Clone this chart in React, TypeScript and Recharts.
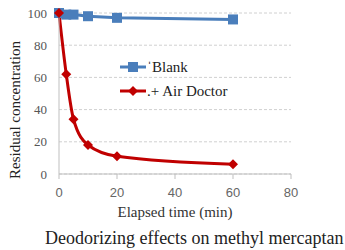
import { LineChart, Line, XAxis, YAxis, CartesianGrid } from 'recharts';

const times = [0, 2.5, 5, 10, 20, 60];
const blank = [100, 99, 99, 98, 97, 96];
const airDoctor = [100, 62, 34, 18, 11, 6];
const xTicks = [0, 20, 40, 60, 80];
const yTicks = [0, 20, 40, 60, 80, 100];

const data = times.map((t, i) => ({ t, blank: blank[i], air: airDoctor[i] }));

const BLUE = '#4a7ebb';
const RED = '#c00000';
const serif = 'Liberation Serif, DejaVu Serif, serif';

const Square = ({ cx, cy }: any) => (
  <rect x={cx - 5} y={cy - 5} width={10} height={10} fill={BLUE} />
);

const Diamond = ({ cx, cy }: any) => (
  <polygon points={`${cx},${cy - 5} ${cx + 5},${cy} ${cx},${cy + 5} ${cx - 5},${cy}`} fill={RED} />
);

const legendItems = [
  { label: 'ˈBlank', color: BLUE, shape: 'square' },
  { label: '.+ Air Doctor', color: RED, shape: 'diamond' },
];

function LegendBox() {
  return (
    <div style={{ position: 'absolute', left: 120, top: 55, fontFamily: serif, fontSize: 15, color: '#222' }}>
      {legendItems.map((it) => (
        <div key={it.label} style={{ display: 'flex', alignItems: 'center', height: 24 }}>
          <svg width={26} height={12}>
            <line x1={0} y1={6} x2={26} y2={6} stroke={it.color} strokeWidth={3} />
            {it.shape === 'square' ? (
              <rect x={8} y={1} width={10} height={10} fill={it.color} />
            ) : (
              <polygon points="13,1 18,6 13,11 8,6" fill={it.color} />
            )}
          </svg>
          <span style={{ marginLeft: 1 }}>{it.label}</span>
        </div>
      ))}
    </div>
  );
}

export default function App() {
  return (
    <div style={{ position: 'absolute', left: 0, top: 0, width: 345, height: 250, background: '#fff' }}>
      <LineChart width={345} height={250} data={data} margin={{ top: 13, right: 54, left: 19, bottom: 34 }}>
        <CartesianGrid vertical={false} stroke="#d0d0d0" strokeDasharray="3 2" />
        <XAxis
          dataKey="t"
          type="number"
          domain={[0, 80]}
          ticks={xTicks}
          height={42}
          stroke="#bfbfbf"
          tickSize={5}
          tickMargin={9}
          tick={{ fill: '#666', fontSize: 13, fontFamily: 'Liberation Sans, sans-serif' }}
          label={{ value: 'Elapsed time (min)', position: 'insideBottom', offset: -1, fill: '#333', fontSize: 15, fontFamily: serif }}
        />
        <YAxis
          domain={[0, 100]}
          ticks={yTicks}
          width={40}
          stroke="#bfbfbf"
          tickLine={false}
          tickMargin={6}
          tick={{ fill: '#555', fontSize: 13, fontFamily: serif }}
        />
        <Line dataKey="blank" stroke={BLUE} strokeWidth={3} dot={<Square />} activeDot={false} isAnimationActive={false} />
        <Line type="monotone" dataKey="air" stroke={RED} strokeWidth={3} dot={<Diamond />} activeDot={false} isAnimationActive={false} />
      </LineChart>
      <LegendBox />
      <div
        style={{
          position: 'absolute',
          left: 15,
          top: 110,
          transform: 'translate(-50%, -50%) rotate(-90deg)',
          fontFamily: serif,
          fontSize: 15,
          color: '#222',
          whiteSpace: 'nowrap',
        }}
      >
        Residual concentration
      </div>
      <div style={{ position: 'absolute', left: 45, top: 228, fontFamily: serif, fontSize: 18, color: '#222', whiteSpace: 'nowrap' }}>
        Deodorizing effects on methyl mercaptan
      </div>
    </div>
  );
}
